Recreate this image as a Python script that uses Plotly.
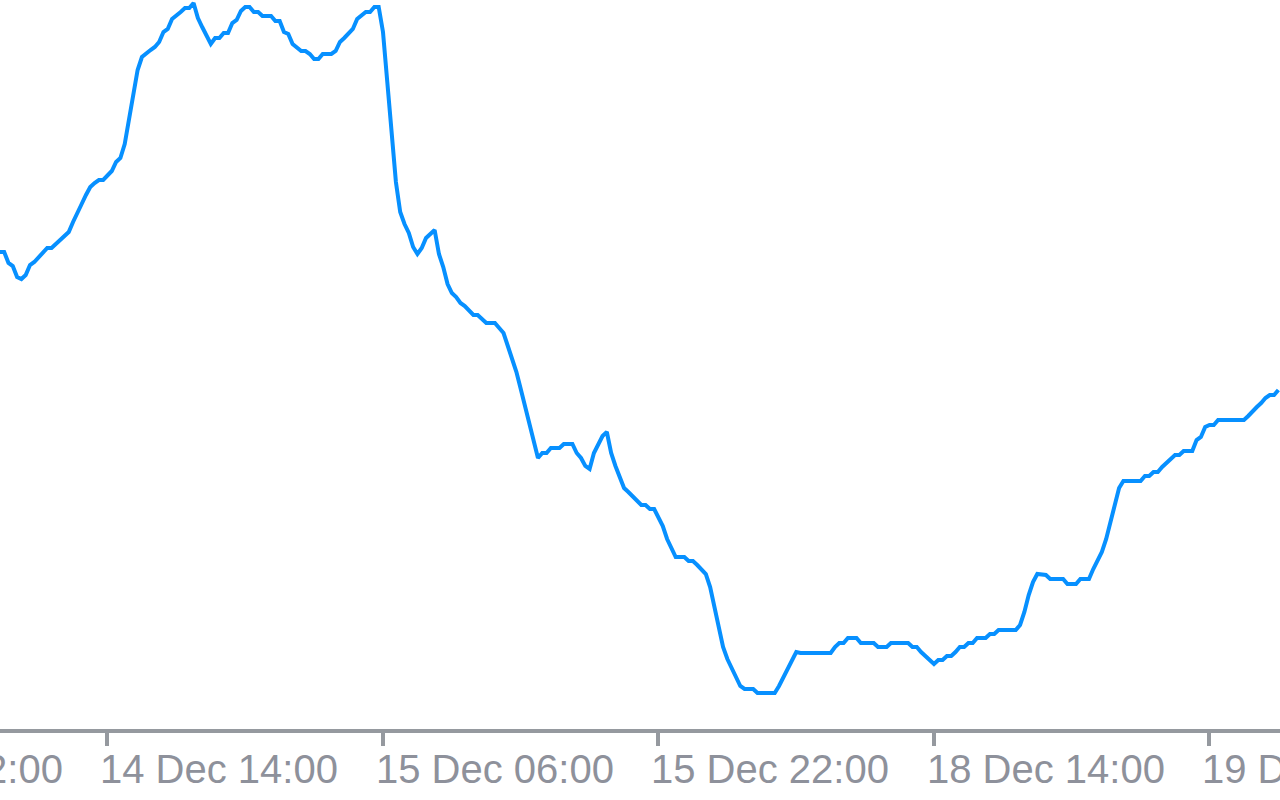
import plotly.graph_objects as go

# 15-minute closing prices; bar 0 = 14 Dec 14:00, first bar = 14 Dec 07:45
first_bar = -25
close = [
    1.09616, 1.09616, 1.09594, 1.09588, 1.09566, 1.09562, 1.09570, 1.09590, 1.09596, 1.09606,
    1.09614, 1.09624, 1.09624, 1.09632, 1.09640, 1.09648, 1.09656, 1.09676, 1.09696, 1.09712,
    1.09730, 1.09746, 1.09754, 1.09760, 1.09760, 1.09768, 1.09778, 1.09796, 1.09804, 1.09832,
    1.09884, 1.09926, 1.09980, 1.10006, 1.10014, 1.10020, 1.10026, 1.10036, 1.10056, 1.10062,
    1.10082, 1.10088, 1.10096, 1.10104, 1.10104, 1.10114, 1.10084, 1.10066, 1.10048, 1.10032,
    1.10044, 1.10044, 1.10054, 1.10054, 1.10074, 1.10080, 1.10098, 1.10106, 1.10106, 1.10096,
    1.10096, 1.10088, 1.10088, 1.10088, 1.10078, 1.10078, 1.10056, 1.10052, 1.10032, 1.10026,
    1.10018, 1.10018, 1.10012, 1.10002, 1.10002, 1.10012, 1.10012, 1.10012, 1.10018, 1.10036,
    1.10044, 1.10054, 1.10062, 1.10082, 1.10088, 1.10096, 1.10096, 1.10106, 1.10106, 1.10056,
    1.09956, 1.09858, 1.09756, 1.09696, 1.09672, 1.09654, 1.09626, 1.09612, 1.09624, 1.09644,
    1.09652, 1.09660, 1.09612, 1.09586, 1.09552, 1.09534, 1.09526, 1.09514, 1.09508, 1.09498,
    1.09490, 1.09490, 1.09482, 1.09474, 1.09474, 1.09474, 1.09464, 1.09454, 1.09428, 1.09402,
    1.09376, 1.09342, 1.09308, 1.09266, 1.09232, 1.09204, 1.09214, 1.09214, 1.09224, 1.09224,
    1.09224, 1.09232, 1.09232, 1.09232, 1.09214, 1.09204, 1.09188, 1.09182, 1.09214, 1.09230,
    1.09248, 1.09256, 1.09214, 1.09188, 1.09164, 1.09144, 1.09136, 1.09128, 1.09118, 1.09110,
    1.09110, 1.09102, 1.09102, 1.09084, 1.09068, 1.09042, 1.09024, 1.09006, 1.09006, 1.09006,
    1.08998, 1.08998, 1.08990, 1.08982, 1.08972, 1.08946, 1.08906, 1.08872, 1.08826, 1.08802,
    1.08786, 1.08766, 1.08748, 1.08742, 1.08742, 1.08742, 1.08734, 1.08734, 1.08734, 1.08734,
    1.08734, 1.08748, 1.08766, 1.08784, 1.08800, 1.08816, 1.08814, 1.08814, 1.08814, 1.08814,
    1.08814, 1.08814, 1.08814, 1.08814, 1.08826, 1.08834, 1.08834, 1.08844, 1.08844, 1.08844,
    1.08834, 1.08834, 1.08834, 1.08834, 1.08826, 1.08826, 1.08826, 1.08834, 1.08834, 1.08834,
    1.08834, 1.08834, 1.08826, 1.08826, 1.08816, 1.08808, 1.08800, 1.08792, 1.08800, 1.08800,
    1.08808, 1.08808, 1.08816, 1.08826, 1.08826, 1.08834, 1.08834, 1.08844, 1.08844, 1.08844,
    1.08852, 1.08852, 1.08860, 1.08860, 1.08860, 1.08860, 1.08860, 1.08870, 1.08896, 1.08930,
    1.08956, 1.08972, 1.08970, 1.08970, 1.08962, 1.08962, 1.08962, 1.08962, 1.08952, 1.08952,
    1.08952, 1.08962, 1.08962, 1.08962, 1.08982, 1.08998, 1.09016, 1.09042, 1.09076, 1.09110,
    1.09144, 1.09158, 1.09158, 1.09158, 1.09158, 1.09158, 1.09168, 1.09168, 1.09176, 1.09176,
    1.09186, 1.09194, 1.09202, 1.09210, 1.09210, 1.09218, 1.09218, 1.09218, 1.09240, 1.09246,
    1.09266, 1.09270, 1.09270, 1.09280, 1.09280, 1.09280, 1.09280, 1.09280, 1.09280, 1.09280,
    1.09288, 1.09298, 1.09306, 1.09314, 1.09324, 1.09330, 1.09330, 1.09340,
]
bars = list(range(first_bar, first_bar + len(close)))

tick_bars = [-64, 0, 64, 128, 192, 256]
tick_labels = ["13 Dec 22:00", "14 Dec 14:00", "15 Dec 06:00",
               "15 Dec 22:00", "18 Dec 14:00", "19 Dec 06:00"]

x_range = [-24.97, 272.38]
y_range = [1.08662, 1.10120]

LINE = "#0790ff"
AXIS = "#95999f"
TEXT = "#8e919b"

fig = go.Figure()
fig.add_trace(go.Scatter(
    x=bars, y=close, mode="lines",
    line=dict(color=LINE, width=4),
    hoverinfo="skip", showlegend=False,
))

span = x_range[1] - x_range[0]
for tb, lab in zip(tick_bars, tick_labels):
    fig.add_annotation(
        x=(tb - x_range[0]) / span, y=0, xref="paper", yref="paper",
        text=lab, showarrow=False, xanchor="left", yanchor="middle",
        xshift=-9, yshift=-39.5,
        font=dict(family="Liberation Sans", size=40, color=TEXT),
    )

fig.update_layout(
    width=1280, height=800,
    margin=dict(l=0, r=0, t=0, b=71),
    paper_bgcolor="white", plot_bgcolor="white",
    xaxis=dict(
        range=x_range, showgrid=False, zeroline=False,
        showline=True, linecolor=AXIS, linewidth=4,
        ticks="outside", tickvals=tick_bars, ticklen=13, tickwidth=4,
        tickcolor=AXIS, showticklabels=False,
    ),
    yaxis=dict(
        range=y_range, showgrid=False, zeroline=False, showline=False,
        showticklabels=False, ticks="",
    ),
)

fig.write_html(
    "out.html",
    config={"displayModeBar": False},
    post_script="document.body.style.margin='0';document.body.style.overflow='hidden';",
)
